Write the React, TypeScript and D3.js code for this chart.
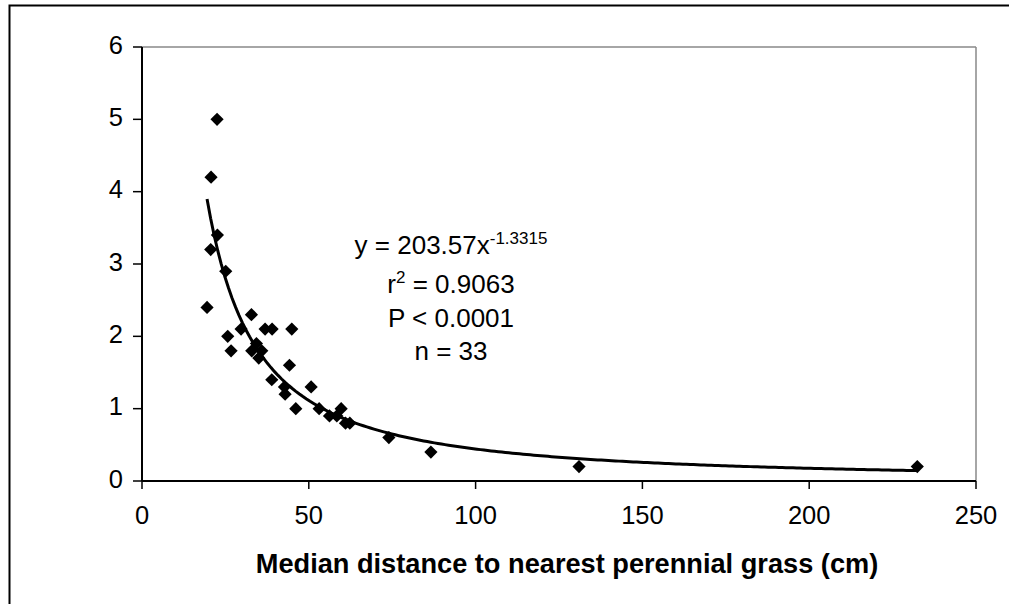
import React from "react";
import * as d3 from "d3";

const distances = [19.5, 20.7, 22.5, 20.6, 22.6, 25.1, 25.7, 26.7, 29.7, 32.8, 32.9, 34.3, 35.9, 35.0, 36.9, 39.0, 44.9, 44.2, 38.9, 42.7, 42.9, 50.7, 46.1, 53.1, 56.2, 58.4, 59.7, 61.0, 62.3, 74.0, 86.6, 131.0, 232.4];
const values = [2.4, 4.2, 5.0, 3.2, 3.4, 2.9, 2.0, 1.8, 2.1, 2.3, 1.8, 1.9, 1.8, 1.7, 2.1, 2.1, 2.1, 1.6, 1.4, 1.3, 1.2, 1.3, 1.0, 1.0, 0.9, 0.9, 1.0, 0.8, 0.8, 0.6, 0.4, 0.2, 0.2];
const xTicks = [0, 50, 100, 150, 200, 250];
const yTicks = [0, 1, 2, 3, 4, 5, 6];
const fitA = 203.57;
const fitB = -1.3315;
const xTitle = "Median distance to nearest perennial grass (cm)";

const W = 1009, H = 604;
const L = 142, R = 976, T = 47, B = 481;
const FONT = "'Liberation Sans', Arial, sans-serif";

export default function App() {
  const x = d3.scaleLinear().domain([0, 250]).range([L, R]);
  const y = d3.scaleLinear().domain([0, 6]).range([B, T]);
  const xmin = d3.min(distances)!, xmax = d3.max(distances)!;
  const fitPts: [number, number][] = d3.range(0, 201).map(i => {
    const xv = xmin + (xmax - xmin) * (i / 200);
    return [xv, fitA * Math.pow(xv, fitB)];
  });
  const line = d3.line<[number, number]>().x(d => x(d[0])).y(d => y(d[1]));
  const r = 6.6;
  const cx = 451;
  const fs = 25.5;
  return (
    <svg width={W} height={H} style={{ position: "absolute", left: 0, top: 0, background: "#fff" }} fontFamily={FONT}>
      <rect x={0} y={0} width={W} height={H} fill="#fff" />
      <rect x={9.5} y={5.5} width={1100} height={700} fill="none" stroke="#000" strokeWidth={2} />
      <line x1={L} x2={R} y1={T} y2={T} stroke="#888" strokeWidth={1.5} />
      <line x1={R} x2={R} y1={T} y2={B} stroke="#888" strokeWidth={1.5} />
      <line x1={L} x2={L} y1={T} y2={B} stroke="#000" strokeWidth={2} />
      <line x1={L} x2={R} y1={B} y2={B} stroke="#000" strokeWidth={2} />
      {yTicks.map(t => (
        <g key={"y" + t}>
          <line x1={L - 9} x2={L} y1={y(t)} y2={y(t)} stroke="#000" strokeWidth={1.5} />
          <text x={123} y={y(t) + 6.5} textAnchor="end" fontSize={fs}>{t}</text>
        </g>
      ))}
      {xTicks.map(t => (
        <g key={"x" + t}>
          <line x1={x(t)} x2={x(t)} y1={B} y2={B + 8} stroke="#000" strokeWidth={1.5} />
          <text x={x(t)} y={524} textAnchor="middle" fontSize={fs}>{t}</text>
        </g>
      ))}
      <path d={line(fitPts) || ""} fill="none" stroke="#000" strokeWidth={3} />
      {distances.map((d, i) => {
        const px = x(d), py = y(values[i]);
        return <path key={i} d={`M${px},${py - r}L${px + r},${py}L${px},${py + r}L${px - r},${py}Z`} fill="#000" />;
      })}
      <text x={cx} y={254} textAnchor="middle" fontSize={26}>
        y = 203.57x<tspan fontSize={17} dy={-10}>-1.3315</tspan>
      </text>
      <text x={cx} y={293} textAnchor="middle" fontSize={26}>
        r<tspan fontSize={17} dy={-10}>2</tspan><tspan dy={10}> = 0.9063</tspan>
      </text>
      <text x={cx} y={327} textAnchor="middle" fontSize={26}>P &lt; 0.0001</text>
      <text x={cx} y={360} textAnchor="middle" fontSize={26}>n = 33</text>
      <text x={567} y={573} textAnchor="middle" fontSize={27.2} fontWeight="bold">{xTitle}</text>
    </svg>
  );
}
